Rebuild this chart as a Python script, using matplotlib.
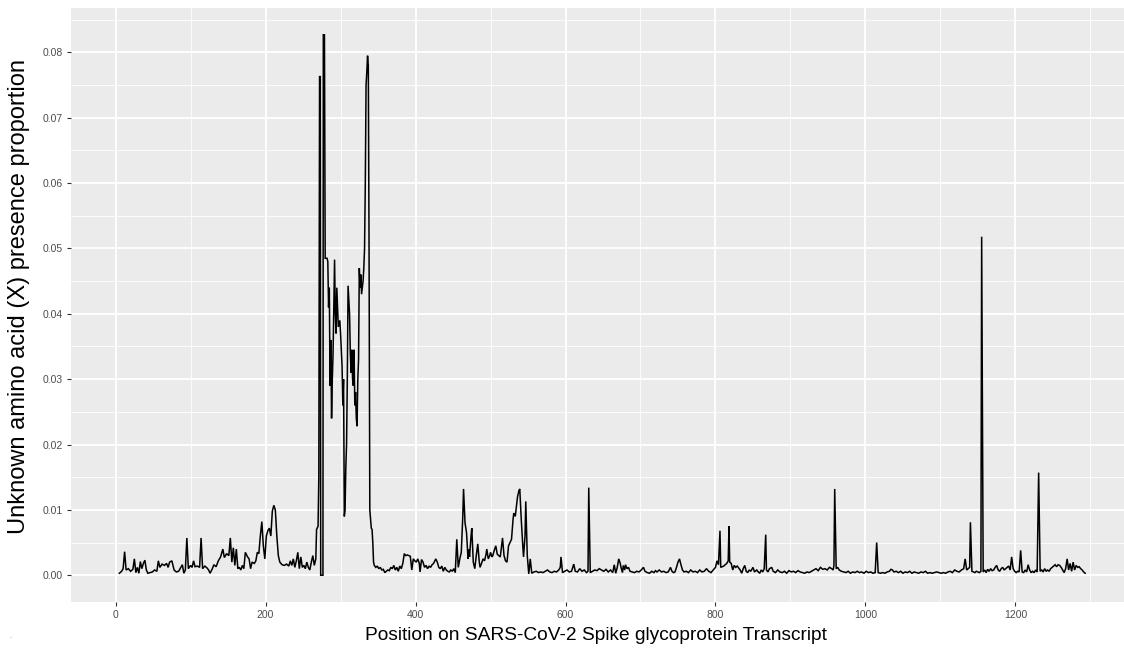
"""Unknown amino acid (X) presence along the SARS-CoV-2 spike transcript, ggplot-like styling."""

import numpy as np
import matplotlib

matplotlib.use("Agg")

import matplotlib.pyplot as plt
from matplotlib.ticker import MultipleLocator, FormatStrFormatter


# --- data, (position, proportion) per region ---
ntd_region = [
    (5, 0.0003), (8, 0.0006), (10, 0.0010), (12, 0.0036), (14, 0.0008), (17, 0.0010),
    (20, 0.0006), (23, 0.0009), (25, 0.0025), (27, 0.0004), (29, 0.0012), (31, 0.0003),
    (33, 0.0021), (35, 0.0010), (37, 0.0018), (39, 0.0023), (41, 0.0008), (43, 0.0003),
    (46, 0.0004), (49, 0.0005), (52, 0.0008), (55, 0.0006), (57, 0.0022), (59, 0.0012),
    (62, 0.0017), (65, 0.0015), (68, 0.0018), (70, 0.0012), (72, 0.0020), (75, 0.0022),
    (78, 0.0008), (81, 0.0005), (84, 0.0006), (87, 0.0012), (89, 0.0016), (91, 0.0003),
    (93, 0.0008), (95, 0.0057), (97, 0.0010), (100, 0.0015), (102, 0.0012), (104, 0.0022),
    (106, 0.0013), (109, 0.0014), (112, 0.0012), (114, 0.0057), (116, 0.0010), (119, 0.0014),
    (122, 0.0011), (124, 0.0008), (126, 0.0003), (129, 0.0010), (131, 0.0016), (134, 0.0013),
    (137, 0.0022), (140, 0.0028), (143, 0.0040), (145, 0.0027), (148, 0.0033), (151, 0.0030),
    (153, 0.0057), (155, 0.0020), (157, 0.0042), (159, 0.0015), (161, 0.0040), (163, 0.0010),
    (165, 0.0012), (167, 0.0008), (169, 0.0015), (171, 0.0010), (173, 0.0035), (176, 0.0028),
    (178, 0.0025), (180, 0.0010), (182, 0.0020), (185, 0.0018), (187, 0.0022), (189, 0.0035),
    (191, 0.0033), (193, 0.0060), (195, 0.0082), (197, 0.0045), (199, 0.0025), (201, 0.0060),
    (203, 0.0068), (205, 0.0072), (207, 0.0060), (209, 0.0098), (211, 0.0107), (213, 0.0100),
    (215, 0.0060), (217, 0.0030), (219, 0.0020), (222, 0.0016), (225, 0.0015), (228, 0.0017),
    (231, 0.0014), (233, 0.0022), (235, 0.0015), (237, 0.0025), (239, 0.0012), (241, 0.0022),
    (243, 0.0035), (245, 0.0010), (247, 0.0028), (249, 0.0012), (251, 0.0015), (253, 0.0010),
    (255, 0.0020), (257, 0.0012), (259, 0.0008), (261, 0.0020), (263, 0.0030), (265, 0.0015),
    (267, 0.0025), (268, 0.0070), (270, 0.0075),
]

peak_region = [
    (271, 0.0150), (272, 0.0763), (273, 0.0763), (273.5, 0.0000), (276.5, 0.0000),
    (277, 0.0827), (278.5, 0.0827), (279.5, 0.0485), (282, 0.0485), (283, 0.0480),
    (284, 0.0410), (285, 0.0440), (286, 0.0290), (287, 0.0360), (288, 0.0240), (289, 0.0300),
    (290, 0.0340), (292, 0.0483), (293, 0.0400), (294, 0.0370), (295, 0.0440), (297, 0.0380),
    (299, 0.0390), (300, 0.0370), (302, 0.0320), (303, 0.0260), (304, 0.0300), (305, 0.0090),
    (306, 0.0100), (307, 0.0165), (308, 0.0200), (309, 0.0300), (310, 0.0443), (311, 0.0420),
    (312, 0.0400), (313, 0.0340), (314, 0.0310), (315, 0.0345), (316, 0.0300), (317, 0.0290),
    (318, 0.0345), (319, 0.0260), (320, 0.0280), (321, 0.0240), (322, 0.0228), (323, 0.0300),
    (324, 0.0330), (325, 0.0470), (326, 0.0440), (327, 0.0460), (328, 0.0430), (329, 0.0440),
    (330, 0.0450), (331, 0.0470), (332, 0.0500), (333, 0.0600), (334, 0.0750), (335, 0.0770),
    (336, 0.0795), (337, 0.0780), (338, 0.0500), (339, 0.0100), (340, 0.0085), (341, 0.0072),
    (342, 0.0070), (343, 0.0050), (344, 0.0020),
]

rbd_region = [
    (345, 0.0015), (347, 0.0012), (349, 0.0014), (351, 0.0010), (353, 0.0012), (355, 0.0008),
    (357, 0.0009), (359, 0.0004), (361, 0.0006), (363, 0.0008), (365, 0.0007), (367, 0.0012),
    (369, 0.0010), (371, 0.0015), (373, 0.0008), (375, 0.0012), (377, 0.0006), (379, 0.0014),
    (381, 0.0010), (383, 0.0018), (385, 0.0033), (387, 0.0030), (389, 0.0031), (391, 0.0030),
    (393, 0.0029), (395, 0.0008), (397, 0.0025), (399, 0.0022), (401, 0.0020), (403, 0.0025),
    (405, 0.0018), (406, 0.0005), (408, 0.0024), (410, 0.0020), (412, 0.0012), (414, 0.0015),
    (416, 0.0010), (418, 0.0014), (420, 0.0012), (422, 0.0016), (424, 0.0018), (427, 0.0025),
    (429, 0.0020), (431, 0.0012), (433, 0.0010), (435, 0.0014), (437, 0.0006), (439, 0.0012),
    (441, 0.0008), (443, 0.0006), (445, 0.0005), (447, 0.0008), (449, 0.0006), (451, 0.0010),
    (453, 0.0004), (455, 0.0055), (457, 0.0012), (459, 0.0025), (461, 0.0035), (463, 0.0090),
    (464, 0.0132), (466, 0.0080), (468, 0.0065), (470, 0.0025), (471, 0.0040), (472, 0.0028),
    (474, 0.0060), (475, 0.0072), (477, 0.0020), (479, 0.0010), (481, 0.0030), (483, 0.0048),
    (485, 0.0020), (486, 0.0012), (488, 0.0018), (490, 0.0025), (492, 0.0022), (494, 0.0032),
    (495, 0.0040), (497, 0.0025), (499, 0.0030), (500, 0.0035), (502, 0.0028), (503, 0.0030),
    (505, 0.0038), (507, 0.0045), (509, 0.0032), (511, 0.0030), (513, 0.0028), (516, 0.0057),
    (518, 0.0030), (520, 0.0022), (522, 0.0020), (524, 0.0045), (526, 0.0050), (528, 0.0055),
    (530, 0.0085), (531, 0.0095), (533, 0.0090), (534, 0.0100), (536, 0.0120), (538, 0.0130),
    (539, 0.0132), (541, 0.0085), (543, 0.0045), (544, 0.0028), (546, 0.0060), (547, 0.0113),
    (549, 0.0030), (551, 0.0002), (553, 0.0025), (555, 0.0003), (558, 0.0005), (561, 0.0006),
    (564, 0.0004), (567, 0.0005), (570, 0.0004), (573, 0.0006), (576, 0.0008), (579, 0.0005),
    (582, 0.0004), (585, 0.0006), (588, 0.0005), (591, 0.0008), (593, 0.0012), (594, 0.0028),
    (596, 0.0004), (599, 0.0006),
]

s2_region = [
    (602, 0.0008), (605, 0.0005), (608, 0.0006), (611, 0.0017), (613, 0.0006), (616, 0.0005),
    (619, 0.0010), (622, 0.0006), (625, 0.0008), (628, 0.0004), (630, 0.0006), (631, 0.0134),
    (633, 0.0004), (636, 0.0006), (639, 0.0008), (642, 0.0007), (645, 0.0010), (648, 0.0008),
    (651, 0.0006), (654, 0.0009), (657, 0.0005), (660, 0.0008), (663, 0.0004), (665, 0.0016),
    (667, 0.0003), (669, 0.0012), (671, 0.0025), (673, 0.0018), (674, 0.0012), (676, 0.0004),
    (677, 0.0015), (679, 0.0008), (680, 0.0016), (682, 0.0010), (684, 0.0012), (686, 0.0006),
    (689, 0.0005), (692, 0.0004), (695, 0.0006), (698, 0.0005), (701, 0.0008), (704, 0.0012),
    (706, 0.0006), (709, 0.0004), (712, 0.0003), (715, 0.0006), (718, 0.0004), (720, 0.0007),
    (722, 0.0005), (725, 0.0008), (728, 0.0005), (731, 0.0006), (734, 0.0004), (737, 0.0005),
    (740, 0.0012), (742, 0.0006), (744, 0.0004), (746, 0.0005), (748, 0.0012), (750, 0.0020),
    (752, 0.0025), (754, 0.0016), (756, 0.0008), (758, 0.0005), (761, 0.0006), (764, 0.0004),
    (767, 0.0008), (770, 0.0005), (773, 0.0006), (776, 0.0004), (779, 0.0008), (782, 0.0005),
    (785, 0.0006), (788, 0.0010), (791, 0.0006), (794, 0.0004), (797, 0.0008), (800, 0.0012),
    (802, 0.0022), (804, 0.0016), (806, 0.0068), (807, 0.0012), (809, 0.0013), (811, 0.0014),
    (813, 0.0016), (815, 0.0018), (817, 0.0022), (818, 0.0075), (819, 0.0020), (821, 0.0018),
    (823, 0.0008), (825, 0.0015), (827, 0.0012), (829, 0.0014), (831, 0.0011), (833, 0.0008),
    (835, 0.0003), (837, 0.0010), (839, 0.0015), (841, 0.0006), (843, 0.0004), (845, 0.0008),
    (847, 0.0006), (850, 0.0012), (852, 0.0005), (855, 0.0008), (857, 0.0005), (859, 0.0003),
    (861, 0.0008), (863, 0.0005), (865, 0.0010), (867, 0.0062), (868, 0.0008), (870, 0.0005),
    (872, 0.0010), (875, 0.0012), (877, 0.0006), (880, 0.0004), (883, 0.0008), (886, 0.0005),
    (889, 0.0004), (892, 0.0006), (895, 0.0003), (898, 0.0007), (901, 0.0005), (904, 0.0006),
    (907, 0.0004), (910, 0.0007), (913, 0.0005), (916, 0.0004), (919, 0.0003), (922, 0.0005),
    (925, 0.0004), (928, 0.0006), (931, 0.0008), (934, 0.0010), (937, 0.0007), (940, 0.0012),
    (943, 0.0009), (946, 0.0010), (949, 0.0008), (952, 0.0012), (955, 0.0010), (957, 0.0008),
    (958, 0.0015), (959, 0.0132), (961, 0.0010), (963, 0.0012), (965, 0.0008), (968, 0.0006),
    (971, 0.0005), (974, 0.0004), (977, 0.0006), (980, 0.0003), (983, 0.0005), (986, 0.0004),
    (989, 0.0006), (992, 0.0004), (995, 0.0005), (998, 0.0003),
]

cterm_region = [
    (1001, 0.0006), (1004, 0.0004), (1007, 0.0005), (1010, 0.0003), (1013, 0.0004),
    (1015, 0.0050), (1017, 0.0004), (1020, 0.0003), (1023, 0.0004), (1026, 0.0003),
    (1029, 0.0005), (1032, 0.0006), (1034, 0.0009), (1036, 0.0008), (1038, 0.0005),
    (1041, 0.0006), (1044, 0.0004), (1047, 0.0006), (1050, 0.0003), (1053, 0.0005),
    (1056, 0.0004), (1059, 0.0006), (1062, 0.0003), (1065, 0.0005), (1068, 0.0004),
    (1071, 0.0003), (1074, 0.0005), (1077, 0.0004), (1080, 0.0006), (1083, 0.0003),
    (1086, 0.0004), (1089, 0.0003), (1092, 0.0004), (1095, 0.0005), (1098, 0.0004),
    (1101, 0.0003), (1104, 0.0004), (1107, 0.0003), (1110, 0.0005), (1113, 0.0006),
    (1116, 0.0004), (1119, 0.0008), (1122, 0.0006), (1125, 0.0005), (1128, 0.0008),
    (1131, 0.0010), (1133, 0.0025), (1135, 0.0008), (1137, 0.0010), (1139, 0.0012),
    (1140, 0.0081), (1142, 0.0006), (1144, 0.0005), (1146, 0.0004), (1148, 0.0006),
    (1150, 0.0005), (1152, 0.0004), (1154, 0.0006), (1155, 0.0518), (1157, 0.0005),
    (1159, 0.0008), (1161, 0.0004), (1163, 0.0009), (1165, 0.0006), (1167, 0.0010),
    (1169, 0.0007), (1171, 0.0008), (1173, 0.0012), (1175, 0.0015), (1177, 0.0008),
    (1179, 0.0006), (1181, 0.0010), (1183, 0.0012), (1185, 0.0008), (1187, 0.0010),
    (1189, 0.0012), (1191, 0.0014), (1193, 0.0008), (1195, 0.0028), (1197, 0.0010),
    (1199, 0.0006), (1201, 0.0004), (1203, 0.0006), (1205, 0.0005), (1207, 0.0038),
    (1209, 0.0005), (1211, 0.0004), (1213, 0.0008), (1215, 0.0005), (1217, 0.0016),
    (1219, 0.0008), (1221, 0.0004), (1223, 0.0006), (1225, 0.0004), (1227, 0.0008),
    (1229, 0.0005), (1231, 0.0157), (1233, 0.0006), (1235, 0.0008), (1237, 0.0005),
    (1239, 0.0010), (1241, 0.0006), (1243, 0.0008), (1245, 0.0006), (1247, 0.0010),
    (1249, 0.0012), (1251, 0.0014), (1253, 0.0016), (1255, 0.0013), (1257, 0.0016),
    (1259, 0.0015), (1261, 0.0012), (1263, 0.0008), (1265, 0.0004), (1267, 0.0010),
    (1269, 0.0025), (1271, 0.0008), (1273, 0.0018), (1275, 0.0006), (1277, 0.0020),
    (1279, 0.0008), (1281, 0.0015), (1283, 0.0012), (1285, 0.0013), (1287, 0.0010),
    (1289, 0.0008), (1291, 0.0005), (1293, 0.0003),
]

X_TICKS = [0, 200, 400, 600, 800, 1000, 1200]
Y_TICKS = [0.00, 0.01, 0.02, 0.03, 0.04, 0.05, 0.06, 0.07, 0.08]
X_TITLE = "Position on SARS-CoV-2 Spike glycoprotein Transcript"
Y_TITLE = "Unknown amino acid (X) presence proportion"

PANEL_BG = "#EBEBEB"
TICK_TEXT = "#4D4D4D"
FONT = ["Liberation Sans", "DejaVu Sans"]


def main() -> None:
    points = ntd_region + peak_region + rbd_region + s2_region + cterm_region
    position = np.array([p for p, _ in points], dtype=float)
    proportion = np.array([v for _, v in points], dtype=float)

    W, H = 1124, 650
    fig = plt.figure(figsize=(W / 100, H / 100), dpi=100, facecolor="white")
    # panel runs past the right edge, like the cropped screenshot
    ax = fig.add_axes([71 / W, (H - 602) / H, (1135 - 71) / W, (602 - 8) / H])
    ax.set_facecolor(PANEL_BG)

    ax.plot(position, proportion, color="black", lw=1.1, solid_joinstyle="miter")

    ax.set_xlim(-59.5, 1359.5)
    ax.set_ylim(-0.0041, 0.0868)
    ax.set_xticks(X_TICKS)
    ax.set_yticks(Y_TICKS)
    ax.xaxis.set_minor_locator(MultipleLocator(100))
    ax.yaxis.set_minor_locator(MultipleLocator(0.005))
    ax.yaxis.set_major_formatter(FormatStrFormatter("%.2f"))

    ax.grid(which="major", color="white", lw=1.3)
    ax.grid(which="minor", color="white", lw=0.6)
    ax.set_axisbelow(True)
    for s in ax.spines.values():
        s.set_visible(False)

    ax.tick_params(which="major", length=3, width=0.8, color="#333333",
                   labelsize=7.5, labelcolor=TICK_TEXT, pad=3)
    ax.tick_params(which="minor", length=0)
    for lab in ax.get_xticklabels() + ax.get_yticklabels():
        lab.set_family(FONT)

    fig.text(596 / W, 1 - 636 / H, X_TITLE, ha="center", va="center",
             fontsize=13.8, family=FONT, color="black")
    fig.text(19 / W, 1 - 296 / H, Y_TITLE, ha="center", va="center",
             rotation=90, fontsize=17, family=FONT, color="black")
    fig.text(10 / W, 1 - 636 / H, ".", ha="center", va="center",
             fontsize=5, color="#999999")

    fig.savefig("out.png", dpi=100, facecolor="white")
    plt.close(fig)


if __name__ == "__main__":
    main()
